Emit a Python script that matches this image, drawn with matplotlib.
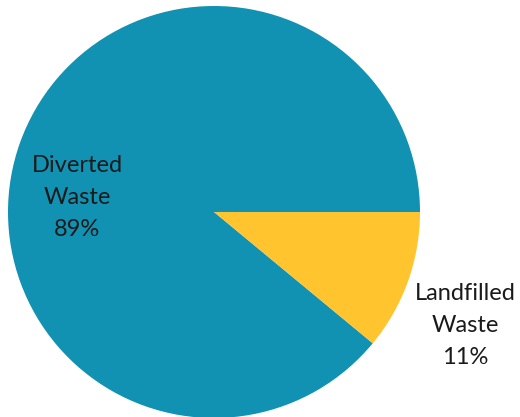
import matplotlib.pyplot as plt

categorias = ['Diverted\nWaste', 'Landfilled\nWaste']
porcentajes = [89, 11]
colores = ['#1192B3', '#FFC42E']

fig = plt.figure(figsize=(5.2, 4.17), dpi=100)
ax = fig.add_axes([8 / 520, -1 / 417, 412 / 520, 412 / 417])

wedges, _ = ax.pie(porcentajes, colors=colores, startangle=0, counterclock=True,
                   radius=1.0, wedgeprops={'linewidth': 0})
ax.set_xlim(-1, 1)
ax.set_ylim(-1, 1)
ax.set_aspect('equal')
ax.axis('off')

# etiquetas de cada sector con su porcentaje
posiciones = [(-0.665, 0.07), (1.218, -0.55)]
for nombre, valor, (x, y) in zip(categorias, porcentajes, posiciones):
    ax.text(x, y, f"{nombre}\n{valor}%", ha='center', va='center',
            fontsize=17, family='Lato', color='#1a1a1a', linespacing=1.65,
            clip_on=False)

fig.savefig('out.png', dpi=100)
